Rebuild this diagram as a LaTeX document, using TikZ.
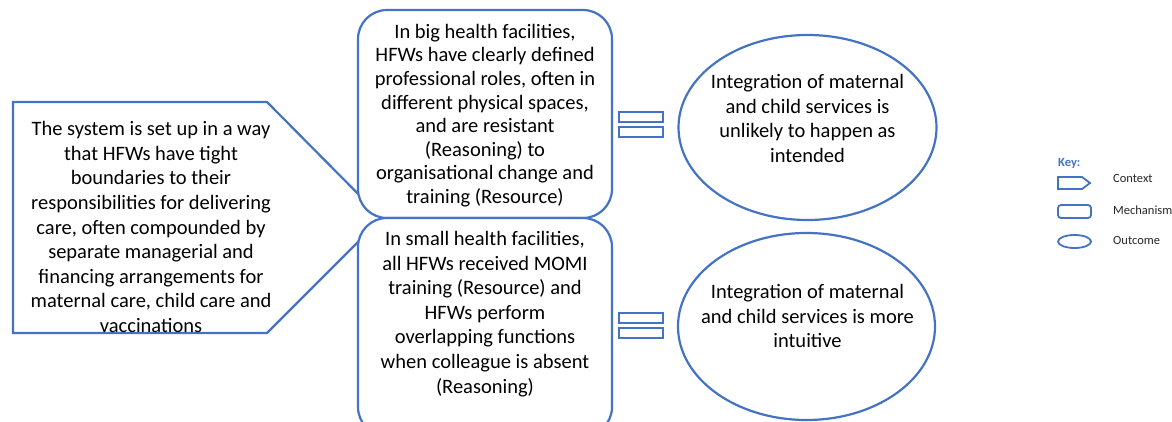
\documentclass[tikz,border=0pt]{standalone}
\usepackage{fontspec}
\setmainfont{Carlito}
\usetikzlibrary{shapes.geometric}
\definecolor{ofblue}{HTML}{4472C4}
\tikzset{
  x=1pt, y=-1pt,
  mainline/.style={draw=ofblue, line width=2.2pt},
  bodytext/.style={align=center, font=\fontsize{20.5}{24.6}\selectfont, inner sep=0pt},
  mechbox/.style={mainline, fill=white, rectangle, rounded corners=29pt, minimum width=254pt, inner sep=0pt},
  outcome/.style={mainline, ellipse, inner sep=0pt},
  eqbar/.style={draw=ofblue, line width=2pt, rectangle, minimum width=44pt, minimum height=10pt, inner sep=0pt},
  keytext/.style={anchor=west, font=\fontsize{12.5}{14}\selectfont, text=black!85, inner sep=0pt},
  keyline/.style={draw=ofblue, line width=1.8pt}
}
\begin{document}
\begin{tikzpicture}
\useasboundingbox (0,0) rectangle (1172,422);
\begin{scope}
\clip (0,0) rectangle (1172,422);
% context pentagon
\coordinate (c1) at (13,102);
\coordinate (c2) at (267,102);
\coordinate (c3) at (382,218);
\coordinate (c4) at (267,333);
\coordinate (c5) at (13,333);
\draw[mainline, line join=miter] (c1) -- (c2) -- (c3) -- (c4) -- (c5) -- cycle;
\node[bodytext] (ctx) at (151,227) {The system is set up in a way\\that HFWs have tight\\boundaries to their\\responsibilities for delivering\\care, often compounded by\\separate managerial and\\financing arrangements for\\maternal care, child care and\\vaccinations};
% mechanisms
\node[mechbox, minimum height=208pt] (m1) at (485,114) {};
\node[bodytext, font=\fontsize{20.5}{23.6}\selectfont] (m1t) at (485,115.5) {In big health facilities,\\HFWs have clearly defined\\professional roles, often in\\different physical spaces,\\and are resistant\\(Reasoning) to\\organisational change and\\training (Resource)};
\node[mechbox, minimum height=218pt] (m2) at (485,327) {};
\node[bodytext] (m2t) at (485,314) {In small health facilities,\\all HFWs received MOMI\\training (Resource) and\\HFWs perform\\overlapping functions\\when colleague is absent\\(Reasoning)};
\end{scope}
% equals signs
\node[eqbar] (e1a) at (640.5,117) {};
\node[eqbar] (e1b) at (640.5,132) {};
\node[eqbar] (e2a) at (640.5,317.5) {};
\node[eqbar] (e2b) at (640.5,333) {};
% outcomes
\node[outcome, minimum width=258pt, minimum height=185pt] (o1) at (807.5,127.5) {};
\node[bodytext] (o1t) at (807.5,118.5) {Integration of maternal\\and child services is\\unlikely to happen as\\intended};
\node[outcome, minimum width=257pt, minimum height=187pt] (o2) at (806.5,326.5) {};
\node[bodytext] (o2t) at (807.5,316) {Integration of maternal\\and child services is more\\intuitive};
% key
\node[anchor=west, inner sep=0pt, font=\bfseries\fontsize{12.5}{14}\selectfont, text=ofblue] (key) at (1058,163) {Key:};
\coordinate (k1) at (1058,177);
\coordinate (k2) at (1082,177);
\coordinate (k3) at (1090,183);
\coordinate (k4) at (1082,189);
\coordinate (k5) at (1058,189);
\draw[keyline, line join=miter] (k1) -- (k2) -- (k3) -- (k4) -- (k5) -- cycle;
\node[keyline, rectangle, rounded corners=3pt, minimum width=33pt, minimum height=13pt, inner sep=0pt] (kmech) at (1074.5,211.5) {};
\node[keyline, ellipse, minimum width=33pt, minimum height=13pt, inner sep=0pt] (kout) at (1074.5,241.5) {};
\node[keytext] (kctxt) at (1113,178) {Context};
\node[keytext] (kmecht) at (1113,210) {Mechanism};
\node[keytext] (koutt) at (1113,240) {Outcome};
\end{tikzpicture}
\end{document}
